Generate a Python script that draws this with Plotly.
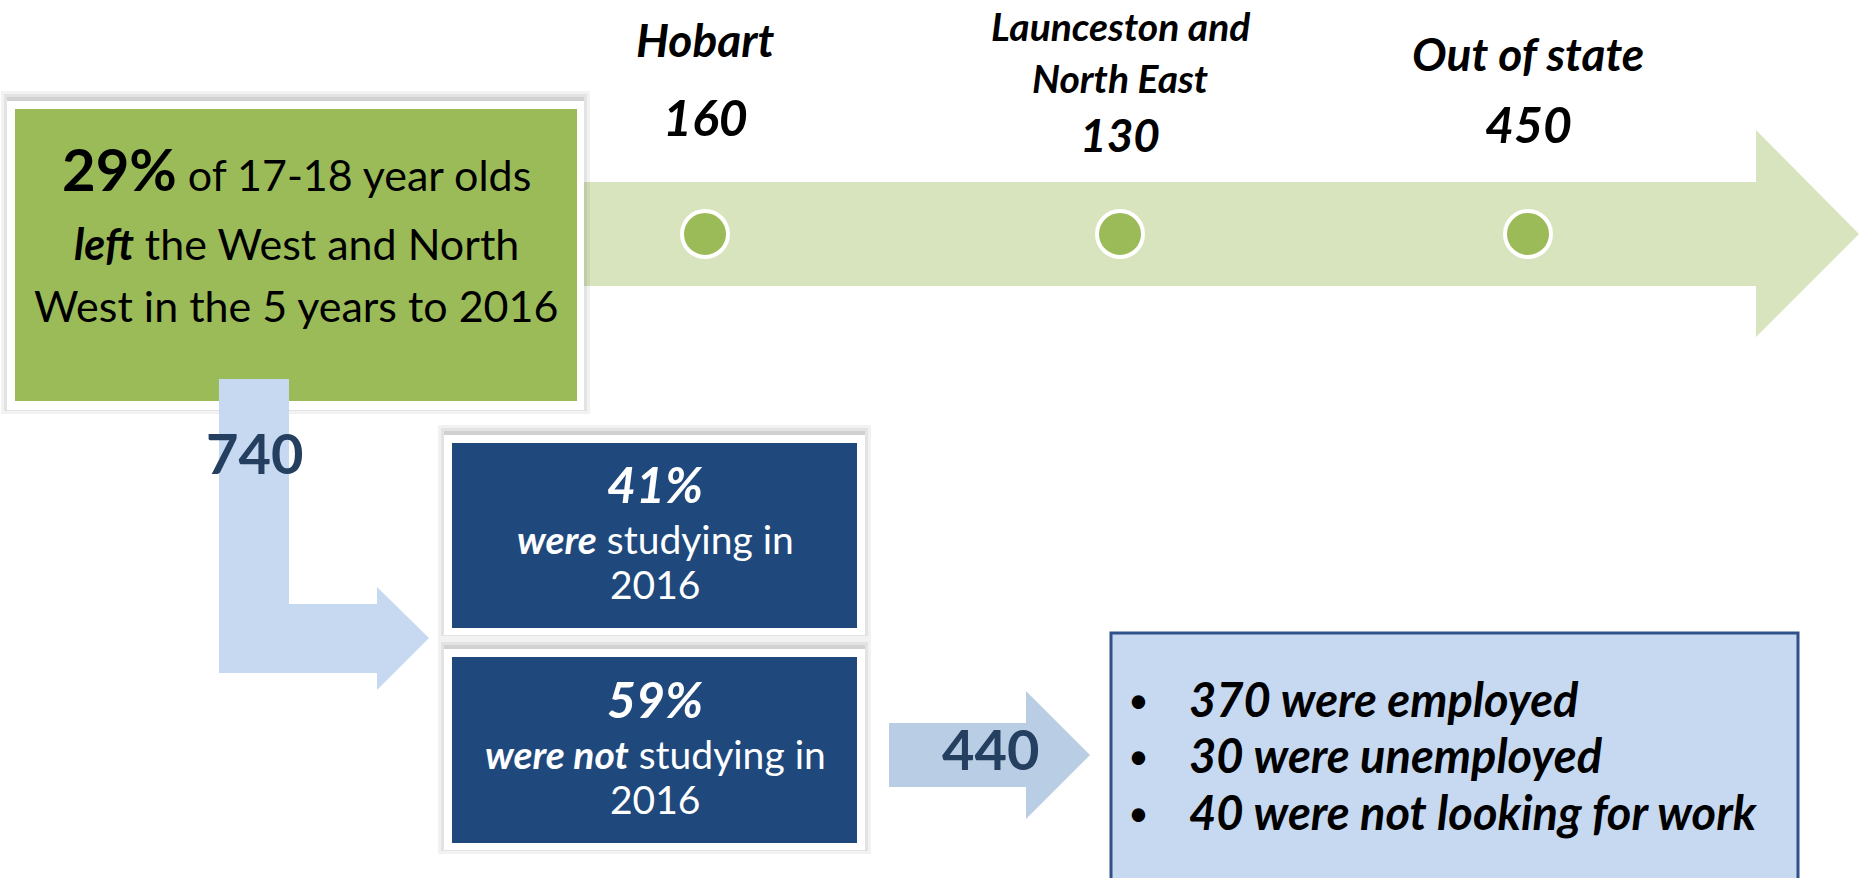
import plotly.graph_objects as go

# ---- data ----
destinations = ["Hobart", "Launceston and<br>North East", "Out of state"]
destination_counts = [160, 130, 450]
left_share_pct = 29
left_total = 740
study_labels = ["were", "were not"]
study_pct = [41, 59]
not_studying_total = 440
outcome_labels = ["were employed", "were unemployed", "were not looking for work"]
outcome_values = [370, 30, 40]

# ---- style / layout constants ----
W, H = 1866, 878
FONT = "Lato"
GREEN = "#9BBB59"
LIGHT_GREEN = "#D7E4BD"
NAVY = "#1F497D"
NAVY_TXT = "#243F60"
LIGHT_BLUE = "#C6D9F1"
ARROW_BLUE = "#B9CDE5"

dest_x = [705, 1120, 1528]
dest_label_y = [39, 26, 53]     # first-line centre
dest_line_gap = 52
dest_count_y = [117, 134, 124]
circle_y = 234

fig = go.Figure()

shapes = []

def rect(x0, y0, x1, y1, fill, line_color=None, line_width=0):
    shapes.append(dict(type="rect", xref="x", yref="y", x0=x0, y0=y0, x1=x1, y1=y1,
                       fillcolor=fill, line=dict(color=line_color or fill, width=line_width),
                       layer="below"))

def shadow(x0, y0, x1, y1):
    for i, a in enumerate([0.05, 0.06, 0.08]):
        d = 8 - i * 3
        shapes.append(dict(type="rect", xref="x", yref="y", x0=x0 - d + 2, y0=y0 - d - 2,
                           x1=x1 + d - 2, y1=y1 + d - 4,
                           fillcolor=f"rgba(0,0,0,{a})", line=dict(width=0), layer="below"))

def path(d, fill):
    shapes.append(dict(type="path", xref="x", yref="y", path=d, fillcolor=fill,
                       line=dict(width=0), layer="below"))

# big light-green arrow
path("M 584,182 L 1756,182 L 1756,130 L 1859,234 L 1756,337 L 1756,286 L 584,286 Z", LIGHT_GREEN)

# green box with white frame
shadow(7, 101, 584, 410)
rect(7, 101, 584, 410, "white")
rect(15, 109, 577, 401, GREEN)

# L-shaped light blue arrow
path("M 219,379 L 289,379 L 289,604 L 377,604 L 377,587 L 429,638 L 377,690 L 377,673 L 219,673 Z", LIGHT_BLUE)

# navy boxes
box_frames = [(444, 435, 865, 635), (444, 649, 865, 850)]
for (x0, y0, x1, y1) in box_frames:
    shadow(x0, y0, x1, y1)
    rect(x0, y0, x1, y1, "white")
    rect(x0 + 8, y0 + 8, x1 - 8, y1 - 7, NAVY)

# 440 arrow
path("M 889,723 L 1026,723 L 1026,691 L 1090,755 L 1026,819 L 1026,787 L 889,787 Z", ARROW_BLUE)

# outcome box
rect(1111, 633, 1798, 880, LIGHT_BLUE, "#2E5289", 3)

# circles on the arrow (one per destination)
fig.add_trace(go.Scatter(
    x=dest_x, y=[circle_y] * len(destinations), mode="markers",
    marker=dict(size=46, color=GREEN, line=dict(color="white", width=4)),
    hoverinfo="skip", showlegend=False))

ann = []

def text(x, y, s, size, color="black", xanchor="center"):
    ann.append(dict(x=x, y=y, xref="x", yref="y", text=s, showarrow=False,
                    font=dict(family=FONT, size=size, color=color), borderpad=0,
                    xanchor=xanchor, yanchor="middle", align=xanchor if xanchor != "center" else "center"))

# destination labels & counts
for i, (lab, cnt) in enumerate(zip(destinations, destination_counts)):
    lines = lab.split("<br>")
    size = 46 if len(lines) == 1 else 39
    for j, l in enumerate(lines):
        text(dest_x[i], dest_label_y[i] + j * dest_line_gap, f"<b><i>{l}</i></b>", size)
    text(dest_x[i], dest_count_y[i], f"<b><i>{cnt}</i></b>", 50 if len(lines) == 1 else 46)

# green box text
text(296, 168, f"<b><span style='font-size:58px'>{left_share_pct}%</span></b> of 17-18 year olds", 43)
text(296, 243, "<b><i>left</i></b> the West and North", 43)
text(296, 305, "West in the 5 years to 2016", 43)

# totals
text(254, 452, f"<b>{left_total}</b>", 56, NAVY_TXT)
text(990, 748, f"<b>{not_studying_total}</b>", 56, NAVY_TXT)

# study boxes
box_text_y = [(484, 539, 584), (699, 754, 799)]
for i, (lab, pct) in enumerate(zip(study_labels, study_pct)):
    y1, y2, y3 = box_text_y[i]
    text(655, y1, f"<b><i>{pct}%</i></b>", 50, "white")
    text(655, y2, f"<b><i>{lab}</i></b> studying in", 39, "white")
    text(655, y3, "2016", 39, "white")

# outcomes
outcome_y = [699, 755, 812]
for i, (lab, val) in enumerate(zip(outcome_labels, outcome_values)):
    text(1138, outcome_y[i], "•", 36, "black")
    text(1188, outcome_y[i], f"<b><i>{val} {lab}</i></b>", 47, "black", xanchor="left")

fig.update_layout(
    width=W, height=H, margin=dict(l=0, r=0, t=0, b=0),
    paper_bgcolor="white", plot_bgcolor="white",
    xaxis=dict(range=[0, W], visible=False, fixedrange=True),
    yaxis=dict(range=[H, 0], visible=False, fixedrange=True),
    shapes=shapes, annotations=ann, showlegend=False,
)

fig.write_html("out.html", config={"displayModeBar": False},
               post_script="document.body.style.margin='0';document.body.style.overflow='hidden';")
